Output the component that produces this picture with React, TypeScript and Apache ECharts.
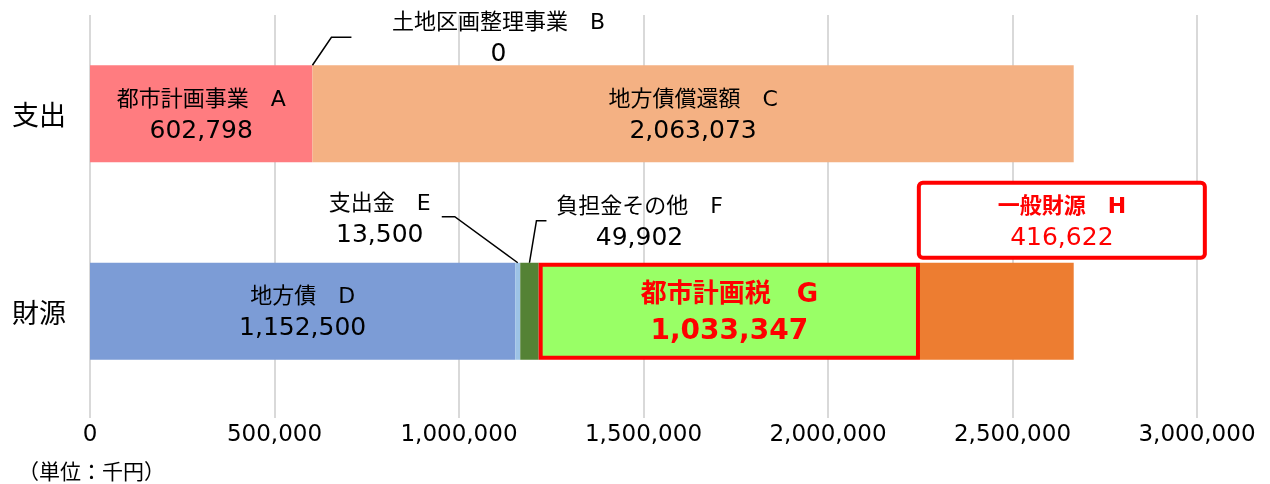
import React, { useEffect, useRef } from 'react';
import * as echarts from 'echarts';

const categories = ['支出', '財源'];
const expenseNames = ['都市計画事業　A', '土地区画整理事業　B', '地方債償還額　C'];
const expenseValues = [602798, 0, 2063073];
const revenueNames = ['地方債　D', '支出金　E', '負担金その他　F', '都市計画税　G', '一般財源　H'];
const revenueValues = [1152500, 13500, 49902, 1033347, 416622];
const xMin = 0;
const xMax = 3000000;
const xInterval = 500000;
const unitLabel = '（単位：千円）';

const expenseColors = ['#FF7C80', '#FF7C80', '#F4B183'];
const revenueColors = ['#7C9CD6', '#9DC3E6', '#548235', '#99FF66', '#ED7D31'];

const CJK = '"Noto Sans CJK JP", "Noto Sans", sans-serif';
const FONT = '"DejaVu Sans", "Noto Sans CJK JP", sans-serif';
const BAR_W = 97;

const fmt = (v: number) => v.toLocaleString('en-US');

const plainRich = {
  n: { fontSize: 22, lineHeight: 31, color: '#000', fontFamily: FONT },
  v: { fontSize: 25, lineHeight: 31, color: '#000', fontFamily: FONT },
};

function labelFor(kind: string, name: string, value: number) {
  const base: any = {
    show: true,
    fontFamily: FONT,
    formatter: () => `{n|${name}}\n{v|${fmt(value)}}`,
    rich: plainRich,
  };
  if (kind === 'inside') return { ...base, position: 'inside' };
  if (kind === 'B') return { ...base, position: 'top', distance: 0, offset: [186, 3] };
  if (kind === 'E') return { ...base, position: 'top', distance: 14, offset: [-138, 0] };
  if (kind === 'F') return { ...base, position: 'top', distance: 11, offset: [110, 0] };
  if (kind === 'G')
    return {
      ...base,
      position: 'inside',
      rich: {
        n: { fontSize: 26, lineHeight: 36, color: '#FF0000', fontWeight: 'bold', fontFamily: FONT },
        v: { fontSize: 28, lineHeight: 36, color: '#FF0000', fontWeight: 'bold', fontFamily: FONT },
      },
    };
  if (kind === 'H')
    return {
      ...base,
      position: 'top',
      distance: 7,
      offset: [65, 0],
      width: 272,
      align: 'center',
      backgroundColor: '#fff',
      borderColor: '#FF0000',
      borderWidth: 4,
      borderRadius: 2,
      padding: [5, 5, 4, 5],
      rich: {
        n: { fontSize: 22, lineHeight: 31, color: '#FF0000', fontWeight: 'bold', fontFamily: FONT, width: 272, align: 'center' },
        v: { fontSize: 25, lineHeight: 31, color: '#FF0000', fontFamily: FONT, width: 272, align: 'center' },
      },
    };
  return base;
}

const expenseKinds = ['inside', 'B', 'inside'];
const revenueKinds = ['inside', 'E', 'F', 'G', 'H'];

export default function App() {
  const ref = useRef<HTMLDivElement>(null);
  useEffect(() => {
    if (!ref.current) return;
    const chart = echarts.init(ref.current, null, { renderer: 'svg' });
    const series: any[] = [];
    expenseValues.forEach((v, i) => {
      series.push({
        type: 'bar',
        stack: 'total',
        name: expenseNames[i],
        barWidth: BAR_W,
        data: [v, '-'],
        itemStyle: { color: expenseColors[i] },
        label: labelFor(expenseKinds[i], expenseNames[i], v),
      });
    });
    revenueValues.forEach((v, i) => {
      const isG = revenueKinds[i] === 'G';
      series.push({
        type: 'bar',
        stack: 'total',
        name: revenueNames[i],
        barWidth: BAR_W,
        data: ['-', v],
        itemStyle: isG
          ? { color: revenueColors[i], borderColor: '#FF0000', borderWidth: 4 }
          : { color: revenueColors[i] },
        label: labelFor(revenueKinds[i], revenueNames[i], v),
        z: isG ? 3 : 2,
      });
    });

    chart.setOption({
      animation: false,
      textStyle: { fontFamily: FONT },
      grid: { left: 90, right: 73, top: 15, bottom: 74, containLabel: false },
      xAxis: {
        type: 'value',
        min: xMin,
        max: xMax,
        interval: xInterval,
        axisLine: { show: false },
        axisTick: { show: true, length: 8, lineStyle: { color: '#D9D9D9', width: 2 } },
        splitLine: { show: true, lineStyle: { color: '#D9D9D9', width: 2 } },
        axisLabel: {
          fontSize: 23,
          color: '#000',
          margin: 11,
          fontFamily: FONT,
          formatter: (v: number) => fmt(v),
        },
      },
      yAxis: {
        type: 'category',
        data: categories,
        inverse: true,
        axisLine: { show: false },
        axisTick: { show: false },
        axisLabel: { fontSize: 27, color: '#000', margin: 24, fontFamily: CJK },
      },
      series,
    });

    // leader lines anchored on computed bar positions
    const topOf = (cat: string) => (chart.convertToPixel({ yAxisIndex: 0 }, cat) as number) - BAR_W / 2;
    const xOf = (v: number) => chart.convertToPixel({ xAxisIndex: 0 }, v) as number;
    const t0 = topOf(categories[0]);
    const t1 = topOf(categories[1]);
    const xB = xOf(expenseValues[0] + expenseValues[1] / 2);
    const xE = xOf(revenueValues[0] + revenueValues[1] / 2);
    const xF = xOf(revenueValues[0] + revenueValues[1] + revenueValues[2] / 2);
    const lineStyle = { stroke: '#000', lineWidth: 1.5, fill: null };
    chart.setOption({
      graphic: [
        { type: 'polyline', shape: { points: [[xB, t0], [xB + 19, t0 - 28], [xB + 39, t0 - 28]] }, style: lineStyle, z: 10 },
        { type: 'polyline', shape: { points: [[xE, t1], [xE - 63, t1 - 46], [xE - 76, t1 - 46]] }, style: lineStyle, z: 10 },
        { type: 'polyline', shape: { points: [[xF, t1], [xF + 7, t1 - 42], [xF + 17, t1 - 42]] }, style: lineStyle, z: 10 },
        {
          type: 'text',
          left: 18,
          top: 459,
          style: { text: unitLabel, fontSize: 21, fill: '#000', fontFamily: CJK },
        },
      ],
    });
    return () => chart.dispose();
  }, []);
  return <div ref={ref} style={{ position: 'fixed', left: 0, top: 0, width: 1270, height: 484 }} />;
}
